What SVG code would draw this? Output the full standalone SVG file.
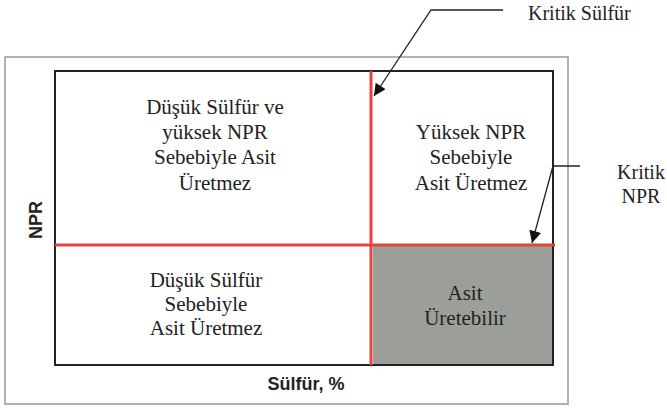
<svg xmlns="http://www.w3.org/2000/svg" width="667" height="417" viewBox="0 0 667 417">
<defs>
<style>
.t{font-family:'Liberation Serif','Tinos','Times New Roman','DejaVu Serif',serif;font-size:21px;fill:#222;text-anchor:middle}
.lbl{font-family:'Liberation Serif','Tinos','Times New Roman','DejaVu Serif',serif;font-size:20px;fill:#222}
.ax{font-family:'Liberation Sans',Arial,sans-serif;font-weight:bold;font-size:18px;fill:#222;text-anchor:middle}
.red{stroke:#e8423f;stroke-width:3;fill:none}
.lead{stroke:#222;stroke-width:1.3;fill:none}
</style>
<marker id="ah" viewBox="0 0 10 10" refX="10" refY="5" markerWidth="14" markerHeight="12" markerUnits="userSpaceOnUse" orient="auto">
<path d="M0,0 L10,5 L0,10 z" fill="#111"/>
</marker>
</defs>
<rect width="667" height="417" fill="#fff"/>
<g id="frame">
<rect x="5" y="57" width="563" height="347" fill="none" stroke="#999" stroke-width="1.5"/>
</g>
<g id="chart">
<rect x="373" y="246" width="180" height="119" fill="#9c9f99"/>
<rect x="55" y="71" width="498" height="294" fill="none" stroke="#222" stroke-width="2"/>
<line class="red" x1="371" y1="71" x2="371" y2="365"/>
<line class="red" x1="55" y1="245" x2="555" y2="245"/>
</g>
<g id="q-top-left">
<text class="t" x="215" y="114">Düşük Sülfür ve</text>
<text class="t" x="215" y="139">yüksek NPR</text>
<text class="t" x="215" y="164">Sebebiyle Asit</text>
<text class="t" x="215" y="190">Üretmez</text>
</g>
<g id="q-top-right">
<text class="t" x="471" y="139">Yüksek NPR</text>
<text class="t" x="471" y="164">Sebebiyle</text>
<text class="t" x="471" y="190">Asit Üretmez</text>
</g>
<g id="q-bottom-left">
<text class="t" x="206" y="287">Düşük Sülfür</text>
<text class="t" x="206" y="311">Sebebiyle</text>
<text class="t" x="206" y="335">Asit Üretmez</text>
</g>
<g id="q-bottom-right">
<text class="t" x="465" y="300">Asit</text>
<text class="t" x="465" y="325">Üretebilir</text>
</g>
<g id="axes">
<text class="ax" x="306" y="390">Sülfür, %</text>
<text class="ax" transform="translate(42,220) rotate(-90)">NPR</text>
</g>
<g id="label-kritik-sulfur">
<text class="lbl" x="528" y="20">Kritik Sülfür</text>
</g>
<g id="label-kritik-npr">
<text class="lbl" x="641" y="179" text-anchor="middle">Kritik</text>
<text class="lbl" x="641" y="203" text-anchor="middle">NPR</text>
</g>
<g id="connectors">
<polyline class="lead" points="503,10 431,10 374,96" marker-end="url(#ah)"/>
<polyline class="lead" points="580,166 553,166 532,243" marker-end="url(#ah)"/>
</g>
</svg>
